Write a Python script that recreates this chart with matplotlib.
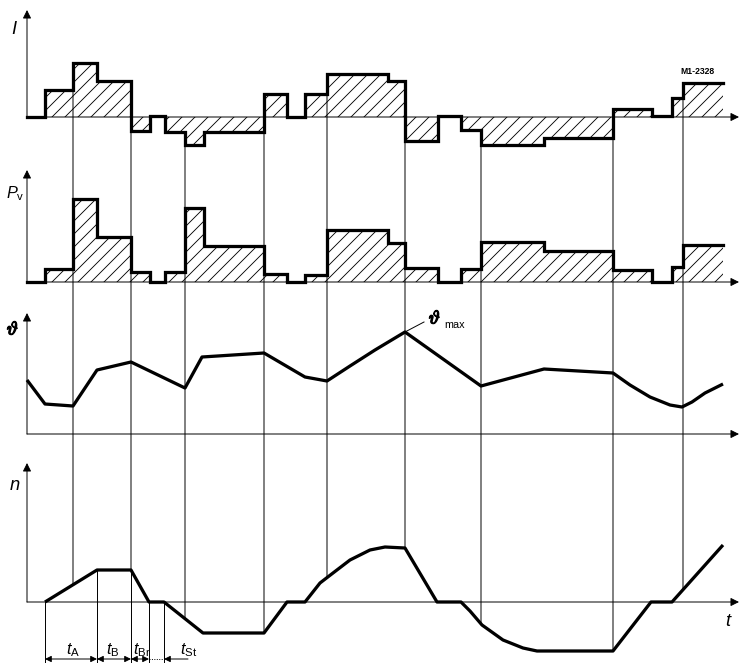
import matplotlib
matplotlib.use('Agg')
import matplotlib.pyplot as plt
from matplotlib.patches import ConnectionPatch
from matplotlib.collections import LineCollection
import matplotlib.patheffects as pe
import numpy as np

plt.rcParams['font.family'] = ['Liberation Sans', 'DejaVu Sans']
plt.rcParams['mathtext.fontset'] = 'custom'
plt.rcParams['mathtext.it'] = 'Liberation Sans:italic'
plt.rcParams['mathtext.rm'] = 'Liberation Sans'
plt.rcParams['mathtext.bf'] = 'Liberation Sans:bold'

# ---------------- data (arbitrary units, time from origin) ----------------
step_times = [0, 18, 46, 70, 104, 123, 138, 158, 177, 237, 260, 278, 300, 361,
              378, 411, 434, 454, 517, 586, 625, 645, 656, 696]
current = [0, 27, 54, 36, -14, 1, -15, -28, -15, 23, 0, 23, 43, 36, -24, 1,
           -13, -28, -21, 8, 1, 19, 34]
power_loss = [0, 13, 83, 45, 10, 0, 10, 74, 36, 8, 0, 7, 52, 39, 14, 0, 13,
              40, 31, 12, 0, 15, 37]

temp_t = [0, 18, 46, 70, 104, 158, 175, 237, 278, 300, 323, 348, 368, 378,
          454, 517, 586, 603, 623, 643, 655, 665, 678, 696]
temp = [54, 30, 28, 64, 72, 46, 77, 81, 57, 53, 68, 84, 96, 102, 48, 65, 61,
        49, 37, 29, 27, 32, 41, 50]

speed_t = [18, 70, 104, 122, 137, 176, 237, 260, 278, 293, 306, 323, 343, 358,
           378, 410, 434, 443, 455, 476, 496, 510, 586, 624, 645, 696]
speed = [0, 32, 32, 0, 0, -31, -31, 0, 0, 19, 29, 42, 52, 55, 54, 0, 0, -9,
         -23, -38, -46, -49, -49, 0, 0, 57]

marker_times = [46, 104, 158, 237, 300, 378, 454, 586, 656]
phase_times = [18, 70, 104, 122, 137]
phase_labels = [r'$t_\mathrm{A}$', r'$t_\mathrm{B}$', r'$t_\mathrm{Br}$', r'$t_\mathrm{St}$']

# ---------------- figure ----------------
W, H = 741, 663
DPI = 78
fig = plt.figure(figsize=(W / DPI, H / DPI), dpi=DPI)
fig.patch.set_facecolor('white')

XLIM = (-27, 714)
# panel boxes in pixel rows (top, bottom) and baseline row
panels = {
    'I': (0, 160, 117),
    'P': (160, 300, 282),
    'T': (300, 445, 434),
    'N': (445, 663, 602),
}
axes = {}
for key, (top, bot, base) in panels.items():
    ax = fig.add_axes([0, 1 - bot / H, 1, (bot - top) / H])
    ax.set_xlim(*XLIM)
    ax.set_ylim(-(bot - base), base - top)
    ax.axis('off')
    axes[key] = ax

THICK = 3.0
THIN = 0.9
axis_tops = {'I': 107, 'P': 112, 'T': 121, 'N': 139}


def draw_axes(ax, ytop):
    ap = dict(arrowstyle='-|>', lw=THIN, color='k', mutation_scale=16,
              shrinkA=0, shrinkB=0)
    ax.annotate('', xy=(0, ytop), xytext=(0, 0), arrowprops=ap)
    ax.annotate('', xy=(712, 0), xytext=(0, 0), arrowprops=ap)


for k, ax in axes.items():
    draw_axes(ax, axis_tops[k])


def step_panel(ax, t, vals, spacing=13):
    v = list(vals) + [vals[-1]]
    poly = ax.fill_between(t, v, 0, step='post', facecolor='none',
                           edgecolor='none', linewidth=0)
    # manual diagonal hatching clipped to the filled region
    offs = np.arange(-300, 900, spacing)
    segs = [[(c - 300, -300), (c + 300, 300)] for c in offs]
    lc = LineCollection(segs, colors='k', linewidths=0.8)
    ax.add_collection(lc, autolim=False)
    path = poly.get_paths()[0]
    lc.set_clip_path(path, ax.transData)
    ax.step(t, v, where='post', color='k', lw=THICK,
            solid_joinstyle='miter', solid_capstyle='projecting')


step_panel(axes['I'], step_times, current)
step_panel(axes['P'], step_times, power_loss)

axes['T'].plot(temp_t, temp, color='k', lw=THICK, solid_joinstyle='round',
               solid_capstyle='butt')
axes['N'].plot(speed_t, speed, color='k', lw=THICK, solid_joinstyle='round',
               solid_capstyle='butt')

# vertical marker lines from current curve to speed curve
st = np.array(step_times)
for tm in marker_times:
    i = np.searchsorted(st, tm)
    top_v = max(current[i - 1], current[min(i, len(current) - 1)])
    bot_v = float(np.interp(tm, speed_t, speed))
    con = ConnectionPatch(xyA=(tm, top_v), coordsA=axes['I'].transData,
                          xyB=(tm, bot_v), coordsB=axes['N'].transData,
                          color='k', lw=THIN)
    fig.add_artist(con)

# dimension lines at bottom
axN = axes['N']
ybot = -61
ydim = -57
for tm in phase_times:
    v = float(np.interp(tm, speed_t, speed))
    axN.plot([tm, tm], [v, ybot], color='k', lw=THIN)

ap2 = dict(arrowstyle='<|-|>', lw=THIN, color='k', mutation_scale=12,
           shrinkA=0, shrinkB=0)
for a, b in zip(phase_times[:3], phase_times[1:4]):
    axN.annotate('', xy=(b, ydim), xytext=(a, ydim), arrowprops=ap2)
axN.plot([phase_times[3], phase_times[4]], [ydim, ydim], color='k', lw=THIN,
         ls=(0, (1, 1.5)))
axN.annotate('', xy=(phase_times[4], ydim), xytext=(phase_times[4] + 24, ydim),
             arrowprops=dict(arrowstyle='-|>', lw=THIN, color='k',
                             mutation_scale=12, shrinkA=0, shrinkB=0))

label_x = [46, 86, 115, 162]
for x, s in zip(label_x, phase_labels):
    axN.text(x, -52, s, fontsize=15, ha='center', va='baseline')

bold = [pe.withStroke(linewidth=1.2, foreground='k')]

# axis labels
axes['I'].text(-13, 87, 'I', fontsize=17, style='italic', ha='center', va='center')
axes['P'].text(-12, 88, r'$P_\mathrm{v}$', fontsize=15, ha='center', va='center')
axes['T'].text(-14, 104, r'$\vartheta$', fontsize=17, math_fontfamily='cm',
               ha='center', va='center', path_effects=bold)
axN.text(-12, 117, 'n', fontsize=17, style='italic', ha='center', va='center')
axN.text(701, -20, 't', fontsize=17, style='italic', ha='center', va='center')

axes['I'].text(670, 45, 'M1-2328', fontsize=8, weight='bold', ha='center',
               va='center')

# theta max annotation
axT = axes['T']
axT.plot([378, 397], [102, 112], color='k', lw=THIN)
axT.text(408, 115, r'$\vartheta$', fontsize=17, math_fontfamily='cm',
         ha='center', va='center', path_effects=bold)
axT.text(417, 106, 'max', fontsize=10, ha='left', va='baseline')

fig.savefig('out.png', dpi=DPI, facecolor='white')
